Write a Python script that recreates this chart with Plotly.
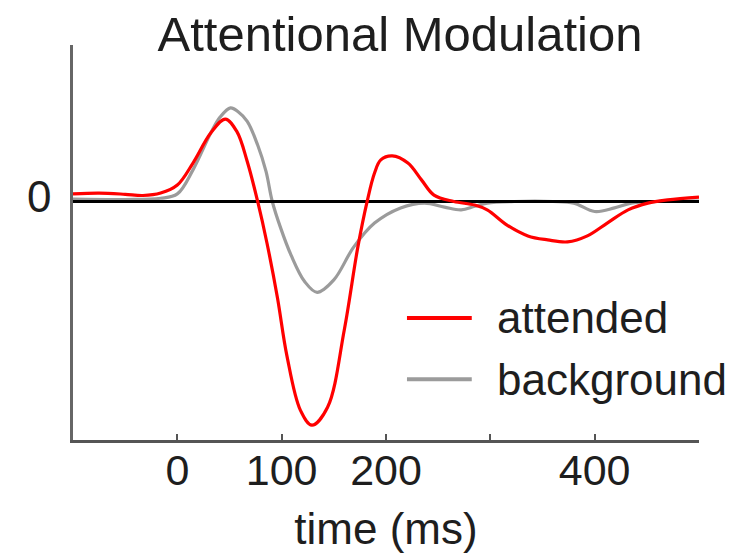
import plotly.graph_objects as go

# ---- data (arbitrary amplitude units, time in ms) ----
time_attended = [-100, -75, -50, -33, -16, 0, 15, 32, 46, 57, 67, 77, 86, 96, 105, 118, 129,
                 144, 160, 173, 182, 189, 195, 206, 221, 234, 246, 265, 285, 297, 316,
                 336, 355, 374, 393, 412, 432, 451, 470, 500]
attended = [0.19, 0.21, 0.18, 0.15, 0.21, 0.41, 0.96, 1.71, 2.06, 1.75, 1.0, 0.0, -1.05,
            -2.41, -3.85, -5.22, -5.59, -5.14, -3.21, -1.14, 0.01, 0.71, 1.04, 1.14, 0.96,
            0.54, 0.16, 0.0, -0.09, -0.21, -0.59, -0.86, -0.96, -1.01, -0.86, -0.54, -0.21,
            -0.04, 0.04, 0.11]

time_background = [-100, -50, -16, 0, 15, 32, 41, 51, 58, 67, 77, 85, 91, 99, 109, 122, 134,
                   150, 169, 189, 214, 237, 256, 272, 285, 297, 323, 360, 380, 400, 419, 435,
                   460, 500]
background = [0.06, 0.05, 0.08, 0.19, 0.79, 1.71, 2.11, 2.34, 2.25, 2.0, 1.41, 0.75, 0.0,
              -0.66, -1.34, -2.0, -2.27, -1.96, -1.14, -0.54, -0.16, -0.04, -0.14, -0.21,
              -0.12, -0.04, 0.0, 0.0, -0.04, -0.25, -0.16, -0.04, 0.0, 0.01]

zero_time = [-100, 500]
zero_values = [0, 0]

series_names = ["attended", "background"]
series_colors = ["#ff0000", "#9b9b9b"]

x_tickvals = [0, 100, 200, 300, 400, 500]
x_ticktext = ["0", "100", "200", "", "400", ""]
y_tickvals = [0]
y_ticktext = ["0"]

FONT = "Liberation Sans, Arial, Helvetica, sans-serif"
TEXT = "#1e1e1e"

# the page body adds an 8px offset; the figure is sized to fill the rest of the window
W, H = 726, 549

fig = go.Figure()
fig.add_trace(go.Scatter(x=time_background, y=background, mode="lines",
                         line=dict(color=series_colors[1], width=3.2, shape="spline", smoothing=1.0),
                         name=series_names[1], showlegend=False))
fig.add_trace(go.Scatter(x=zero_time, y=zero_values, mode="lines",
                         line=dict(color="#000000", width=3), showlegend=False, hoverinfo="skip"))
fig.add_trace(go.Scatter(x=time_attended, y=attended, mode="lines",
                         line=dict(color=series_colors[0], width=3.2, shape="spline", smoothing=1.0),
                         name=series_names[0], showlegend=False))

# custom legend (long line samples as in the reference)
leg_y = [0.309, 0.154]
for name, col, yy in zip(series_names, series_colors, leg_y):
    fig.add_shape(type="line", xref="paper", yref="paper", x0=0.5335, x1=0.637, y0=yy, y1=yy,
                  line=dict(color=col, width=4))
    fig.add_annotation(xref="paper", yref="paper", x=0.674, y=yy, xanchor="left", yanchor="middle",
                       text=name, showarrow=False, font=dict(family=FONT, size=44, color=TEXT))

fig.update_layout(
    width=W, height=H,
    margin=dict(l=65, r=35, t=37, b=117, autoexpand=False),
    paper_bgcolor="white", plot_bgcolor="white",
    title=dict(text="Attentional Modulation", x=392/W, xanchor="center", xref="container",
               y=1 - 26/H, yanchor="middle", yref="container",
               font=dict(family=FONT, size=49, color=TEXT)),
    font=dict(family=FONT, color=TEXT),
    xaxis=dict(range=[-100, 500], showgrid=False, zeroline=False, automargin=False,
               showline=True, linecolor="#555555", linewidth=2.5,
               ticks="inside", ticklen=6, tickwidth=1.5, tickcolor="#555555",
               tickvals=x_tickvals, ticktext=x_ticktext, ticklabelstandoff=-9,
               tickfont=dict(family=FONT, size=43, color=TEXT),
               title=dict(text="time (ms)", font=dict(family=FONT, size=44, color=TEXT), standoff=20)),
    yaxis=dict(range=[-5.96, 3.91], showgrid=False, zeroline=False, automargin=False,
               showline=True, linecolor="#666666", linewidth=2.5,
               ticks="", tickvals=y_tickvals, ticktext=y_ticktext,
               tickfont=dict(family=FONT, size=44, color=TEXT), ticklabelstandoff=10,
               ticklabelshift=-5),
)

fig.write_html("out.html")
